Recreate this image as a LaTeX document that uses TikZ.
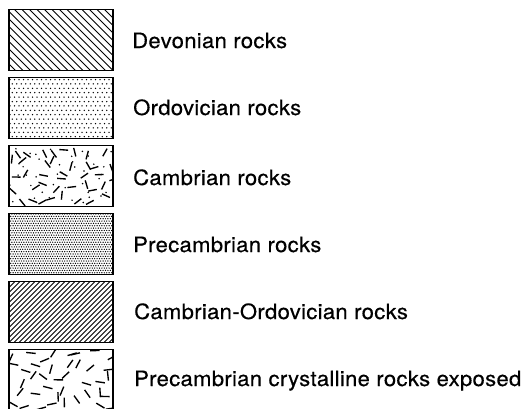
\documentclass[tikz,border=0pt]{standalone}
\usepackage{fontspec}
\setmainfont[LetterSpace=1.5,FakeStretch=1.05,FakeBold=0.4]{TeX Gyre Heros}
\begin{document}
\begin{tikzpicture}[x=1pt,y=-1pt,
  box/.style={draw,line width=1.2pt,minimum width=104pt,minimum height=61pt,inner sep=0pt,outer sep=0pt},
  lab/.style={anchor=base west,font=\fontsize{21}{24}\selectfont,inner sep=0pt},
  hatch/.style={line width=0.9pt},
  stroke/.style={line width=1.35pt}]
\useasboundingbox (0,0) rectangle (523,408);
\pgfmathsetseed{4242}
% boxes
\node[box] (b1) at (61,40) {};
\node[box] (b2) at (61,108) {};
\node[box] (b3) at (61,176) {};
\node[box] (b4) at (61,244) {};
\node[box] (b5) at (61,312) {};
\node[box] (b6) at (61,380) {};
% Devonian: \\\ lines
\begin{scope}
\clip (b1.north west) rectangle (b1.south east);
\foreach \k in {-70,-62.5,...,110} \draw[hatch] (9+\k,9) -- ++(62,62);
\end{scope}
% Ordovician: sparse dots
\begin{scope}
\clip (b2.north west) rectangle (b2.south east);
\foreach \r in {0,...,14} {
  \foreach \c in {0,...,23} {
    \pgfmathsetmacro\off{mod(\r,2)*2.25}
    \fill (10+\c*4.5+\off,79.5+\r*4.4) circle (0.75);
  }
}
\end{scope}
% Cambrian: dashes and dots
\begin{scope}
\clip (b3.north west) rectangle (b3.south east);
\foreach \r in {0,...,4} {
  \foreach \c in {0,...,7} {
    \pgfmathsetmacro\px{9+13*\c+6.5+8*rand}
    \pgfmathsetmacro\py{145.5+12.2*\r+6+5*rand}
    \pgfmathsetmacro\an{180*rnd}
    \draw[stroke] (\px,\py) ++(\an:-4.4) -- ++(\an:8.8);
    \pgfmathsetmacro\qx{9+13*\c+6.5+6*rand}
    \pgfmathsetmacro\qy{145.5+12.2*\r+6+5*rand}
    \fill (\qx,\qy) circle (0.85);
  }
}
\end{scope}
% Precambrian: dense dots
\begin{scope}
\clip (b4.north west) rectangle (b4.south east);
\foreach \r in {0,...,26} {
  \foreach \c in {0,...,44} {
    \pgfmathsetmacro\off{mod(\r,2)*1.2}
    \fill (9.5+\c*2.4+\off,214+\r*2.35) circle (0.7);
  }
}
\end{scope}
% Cambrian-Ordovician: /// lines
\begin{scope}
\clip (b5.north west) rectangle (b5.south east);
\foreach \k in {-70,-65,...,110} \draw[hatch] (9+\k,342.5) -- ++(62,-62);
\end{scope}
% Precambrian crystalline: dashes
\begin{scope}
\clip (b6.north west) rectangle (b6.south east);
\foreach \r in {0,...,4} {
  \foreach \c in {0,...,7} {
    \pgfmathsetmacro\px{9+13*\c+6.5+7*rand}
    \pgfmathsetmacro\py{349.5+12.2*\r+6+5*rand}
    \pgfmathsetmacro\an{180*rnd}
    \draw[stroke] (\px,\py) ++(\an:-4.8) -- ++(\an:9.6);
  }
}
\end{scope}
% redraw borders
\foreach \b in {b1,b2,b3,b4,b5,b6} \draw[line width=1.2pt] (\b.north west) rectangle (\b.south east);
% labels
\node[lab] (t1) at (132,48) {Devonian rocks};
\node[lab] (t2) at (133,115) {Ordovician rocks};
\node[lab] (t3) at (133,185) {Cambrian rocks};
\node[lab] (t4) at (133,252) {Precambrian rocks};
\node[lab] (t5) at (134,319) {Cambrian-Ordovician rocks};
\node[lab] (t6) at (134,386) {Precambrian crystalline rocks exposed};
\end{tikzpicture}
\end{document}
